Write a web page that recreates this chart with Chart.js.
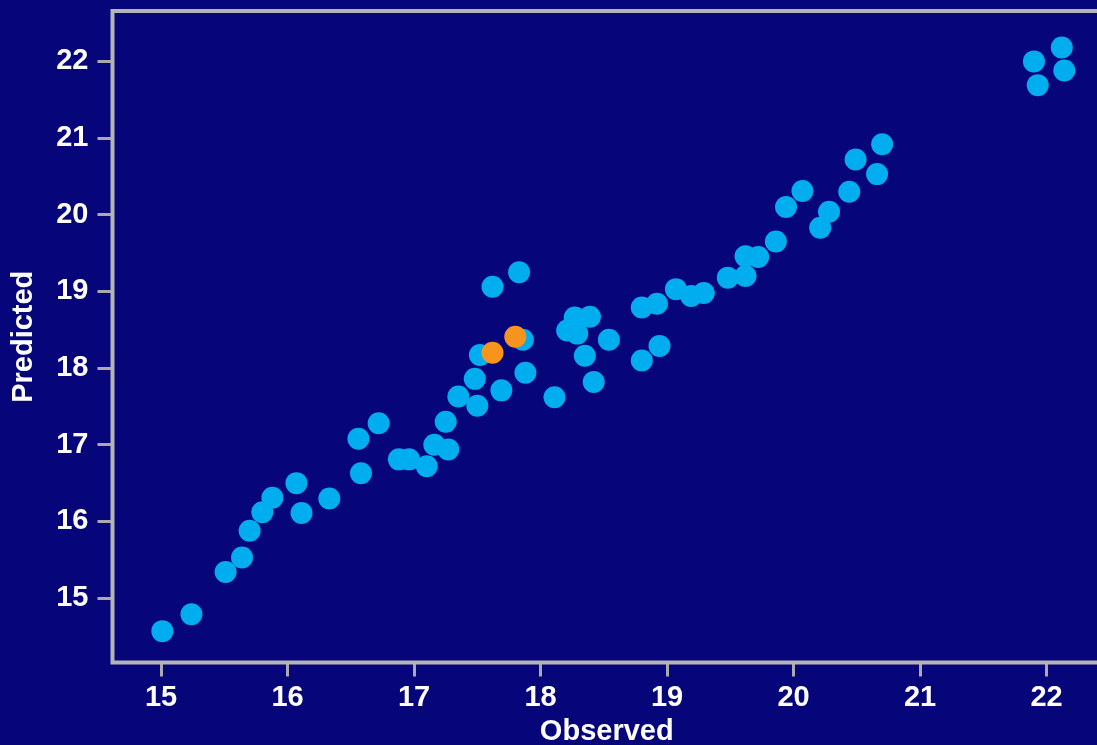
<!DOCTYPE html>
<html>
<head>
<meta charset="utf-8">
<script src="https://cdn.jsdelivr.net/npm/chart.js@4"></script>
<style>
    html, body { margin: 0; padding: 0; background: #06067a; overflow: hidden; }
    #wrap { width: 1097px; height: 745px; overflow: hidden; }
</style>
</head>
<body>
<div id="wrap"><canvas id="myChart" width="1112" height="745"></canvas></div>
<script>
// observed vs predicted
var observed = [15.01, 15.24, 15.51, 15.64, 15.70, 15.80, 15.88, 16.07, 16.11, 16.33,
    16.56, 16.58, 16.72, 16.88, 16.96, 17.10, 17.16, 17.27, 17.25, 17.35,
    17.48, 17.50, 17.52, 17.62, 17.69, 17.83, 17.86, 17.88, 18.11, 18.21,
    18.27, 18.29, 18.39, 18.35, 18.42, 18.54, 18.80, 18.92, 18.80, 18.94,
    19.07, 19.19, 19.29, 19.48, 19.62, 19.62, 19.72, 19.86, 19.94, 20.07,
    20.21, 20.28, 20.44, 20.49, 20.66, 20.70, 21.90, 21.93, 22.12, 22.14];
var predicted = [14.57, 14.79, 15.34, 15.53, 15.88, 16.12, 16.31, 16.50, 16.11, 16.30,
    17.08, 16.63, 17.28, 16.81, 16.81, 16.72, 17.00, 16.94, 17.30, 17.63,
    17.86, 17.51, 18.17, 19.06, 17.71, 19.25, 18.37, 17.94, 17.62, 18.49,
    18.66, 18.45, 18.67, 18.16, 17.82, 18.37, 18.79, 18.84, 18.10, 18.29,
    19.03, 18.94, 18.98, 19.18, 19.20, 19.46, 19.45, 19.65, 20.10, 20.31,
    19.83, 20.04, 20.30, 20.72, 20.53, 20.92, 22.00, 21.69, 22.18, 21.88];

var highlightObserved = [17.62, 17.80];
var highlightPredicted = [18.20, 18.41];

var xTicks = [15, 16, 17, 18, 19, 20, 21, 22];
var yTicks = [15, 16, 17, 18, 19, 20, 21, 22];

function toPoints(xs, ys) {
    return xs.map(function (x, i) { return { x: x, y: ys[i] }; });
}

var bgPlugin = {
    id: 'bg',
    beforeDraw: function (chart) {
        var ctx = chart.ctx;
        ctx.save();
        ctx.fillStyle = '#06067a';
        ctx.fillRect(0, 0, chart.width, chart.height);
        ctx.restore();
    },
    afterDatasetsDraw: function (chart) {
        var a = chart.chartArea, ctx = chart.ctx;
        ctx.save();
        ctx.strokeStyle = '#b4b4b4';
        ctx.lineWidth = 4;
        ctx.strokeRect(a.left, a.top, a.right - a.left, a.bottom - a.top);
        ctx.restore();
    }
};

var tickFont = { family: "'Liberation Sans', Arial, sans-serif", size: 29, weight: 'bold' };

var ctx = document.getElementById('myChart').getContext('2d');
var myChart = new Chart(ctx, {
    type: 'scatter',
    data: {
        datasets: [
            {
                data: toPoints(highlightObserved, highlightPredicted),
                backgroundColor: '#f7941d',
                borderWidth: 0,
                pointRadius: 11
            },
            {
                data: toPoints(observed, predicted),
                backgroundColor: '#00aeef',
                borderWidth: 0,
                pointRadius: 11
            }
        ]
    },
    options: {
        responsive: false,
        animation: false,
        layout: { padding: { top: 9.5, right: 8.5, left: 0, bottom: 0 } },
        plugins: { legend: { display: false }, tooltip: { enabled: false } },
        scales: {
            x: {
                type: 'linear',
                min: 14.616,
                max: 22.43,
                afterBuildTicks: function (scale) {
                    scale.ticks = xTicks.map(function (v) { return { value: v }; });
                },
                afterFit: function (scale) {
                    scale.height = 82.5;
                    scale.paddingLeft = 0;
                    scale.paddingRight = 0;
                },
                border: { display: false },
                grid: { drawOnChartArea: false, drawTicks: true, tickLength: 14, color: '#aaaaaa', lineWidth: 3 },
                ticks: { color: '#ffffff', font: tickFont, padding: 4, maxRotation: 0 },
                title: { display: true, text: 'Observed', color: '#ffffff', font: tickFont, padding: { top: 0, bottom: -4 } }
            },
            y: {
                type: 'linear',
                min: 14.161,
                max: 22.657,
                afterBuildTicks: function (scale) {
                    scale.ticks = yTicks.map(function (v) { return { value: v }; });
                },
                afterFit: function (scale) {
                    scale.width = 112.5;
                    scale.paddingTop = 0;
                    scale.paddingBottom = 0;
                },
                border: { display: false },
                grid: { drawOnChartArea: false, drawTicks: true, tickLength: 15, color: '#aaaaaa', lineWidth: 3 },
                ticks: { color: '#ffffff', font: tickFont, padding: 9 },
                title: { display: true, text: 'Predicted', color: '#ffffff', font: tickFont, padding: { top: 7, bottom: 0 } }
            }
        }
    },
    plugins: [bgPlugin]
});
</script>
</body>
</html>
